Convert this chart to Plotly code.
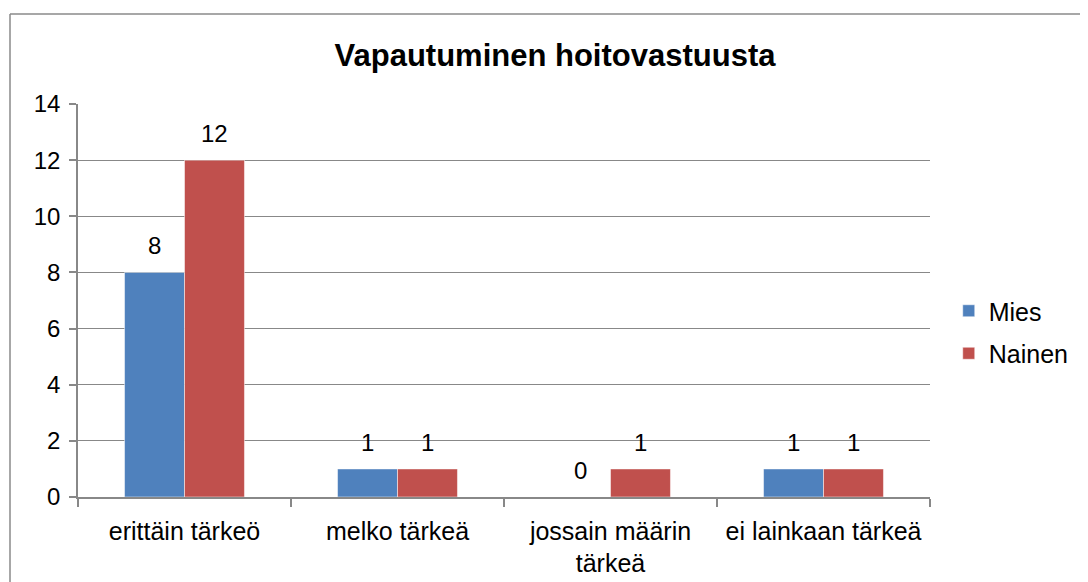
import plotly.graph_objects as go

categories = ["erittäin tärkeö", "melko tärkeä", "jossain määrin<br>tärkeä", "ei lainkaan tärkeä"]
mies = [8, 1, 0, 1]
nainen = [12, 1, 1, 1]
y_ticks = [0, 2, 4, 6, 8, 10, 12, 14]
title_text = "Vapautuminen hoitovastuusta"

FONT = "Liberation Sans, Arial, sans-serif"
GRID = "#888888"

# page body has an 8px margin; figure is sized so the plot lands where the reference has it
W, H = 1080, 574
L, T, R, B = 70, 96, 158, 85
PW, PH = W - L - R, H - T - B
BARGAP = 0.437
half_bar = PW / len(categories) * (1 - BARGAP) / 4  # centre offset of each bar in a group

fig = go.Figure()
fig.add_trace(go.Bar(name="Mies", x=categories, y=mies, marker_color="#4F81BD",
                     marker_line=dict(color="white", width=0.5), legendgroup="a"))
fig.add_trace(go.Bar(name="Nainen", x=categories, y=nainen, marker_color="#C0504D",
                     marker_line=dict(color="white", width=0.5), legendgroup="b"))

# value labels above bars
for vals, sign in ((mies, -1), (nainen, 1)):
    for cat, v in zip(categories, vals):
        fig.add_annotation(x=cat, y=v, text=str(v), showarrow=False,
                           xanchor="center", yanchor="bottom",
                           xshift=sign * half_bar, yshift=11,
                           font=dict(size=24, color="black", family=FONT))

fig.update_layout(
    width=W, height=H,
    margin=dict(l=L, r=R, t=T, b=B, autoexpand=False),
    paper_bgcolor="white", plot_bgcolor="white",
    barmode="group", bargap=BARGAP, bargroupgap=0,
    font=dict(family=FONT, size=24, color="black"),
    title=dict(text="<b>" + title_text + "</b>", x=(555 - 8) / W, xanchor="center",
               y=1 - 47 / H, yanchor="middle", font=dict(size=31, family=FONT)),
    legend=dict(x=1.022, y=(489 - 324) / PH, xanchor="left", yanchor="middle",
                font=dict(size=25, family=FONT), itemwidth=30, tracegroupgap=7,
                traceorder="grouped"),
    showlegend=True,
)
fig.update_xaxes(type="category", showline=True, linecolor=GRID, linewidth=1.5,
                 ticks="outside", tickson="boundaries", ticklen=8, tickcolor=GRID,
                 tickwidth=1.5, showgrid=False, tickfont=dict(size=25),
                 ticklabelstandoff=11, automargin=False)
fig.update_yaxes(range=[0, 14], tickvals=y_ticks, showgrid=True, gridcolor=GRID,
                 gridwidth=1.2, showline=True, linecolor=GRID, linewidth=1.5,
                 ticks="outside", ticklen=7, tickcolor=GRID, tickwidth=1.5,
                 zeroline=False, tickfont=dict(size=24), ticklabelstandoff=4,
                 automargin=False)

# outer chart border (left and top edges visible); window coords -> figure coords (-8px)
bx = (10 - 78) / PW
by = (497 - 14) / PH
fig.add_shape(type="line", xref="paper", yref="paper",
              x0=bx, x1=bx, y0=by, y1=-0.3, line=dict(color="#8a8a8a", width=1.5))
fig.add_shape(type="line", xref="paper", yref="paper",
              x0=bx, x1=1.3, y0=by, y1=by, line=dict(color="#8a8a8a", width=1.5))

fig.write_html("out.html")
